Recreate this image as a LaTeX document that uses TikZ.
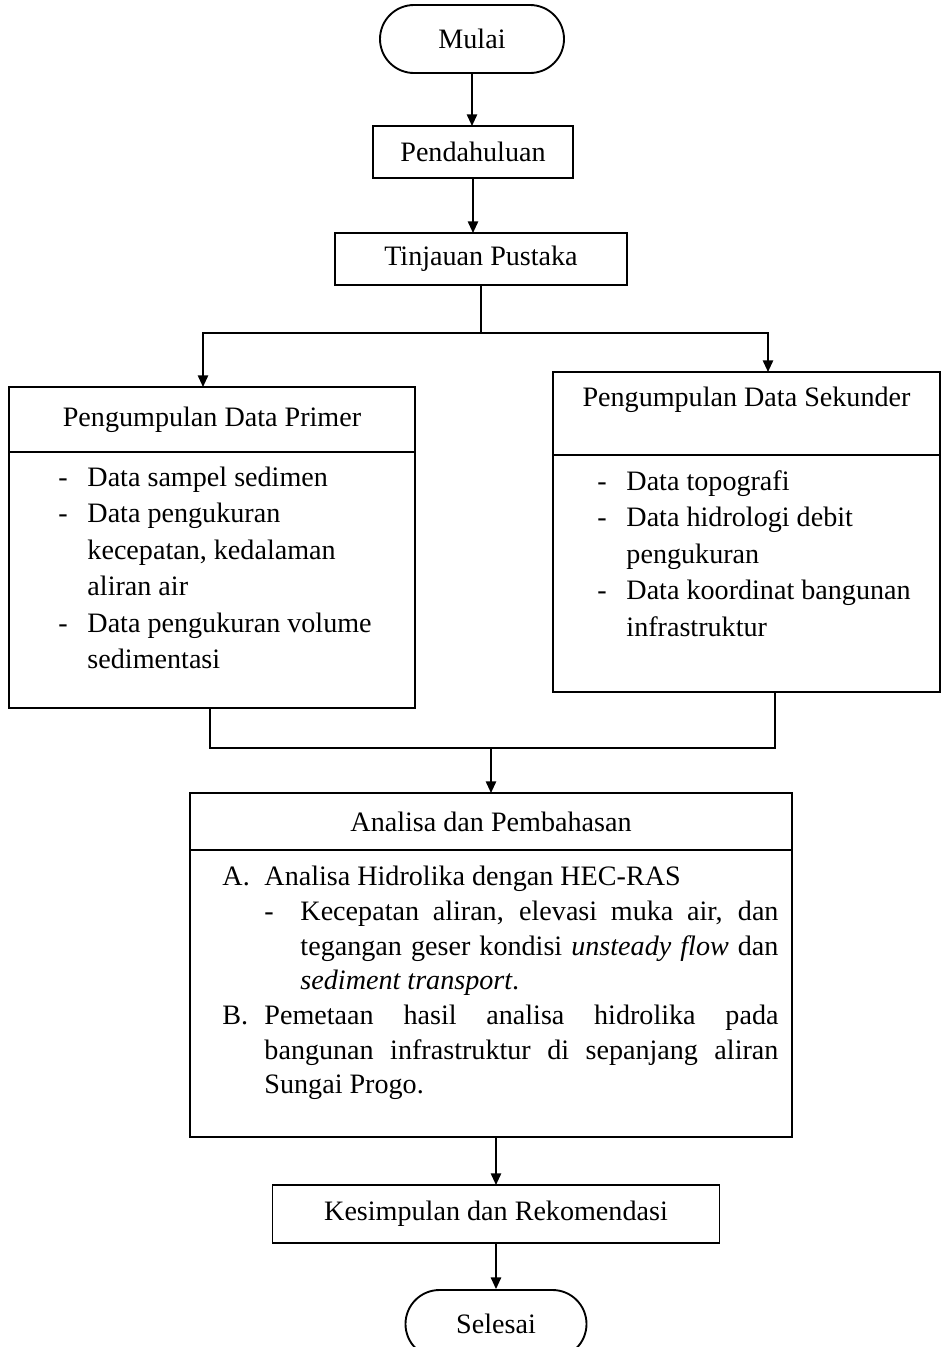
\documentclass[tikz,border=0pt]{standalone}
\usepackage{fontspec}
\setmainfont{Liberation Serif}
\usepackage{array}
\usetikzlibrary{arrows.meta,shapes.misc,calc}

\newcommand{\px}{0.015cm}

\tikzset{
  garis/.style={line width=0.8pt},
  panah/.style={garis,-{Triangle[length=5pt,width=4.4pt]}},
  ukuran/.style 2 args={minimum width=#1*\px,minimum height=#2*\px},
  kotak/.style={draw,garis,rectangle,inner sep=0pt,outer sep=0pt,font=\fontsize{12}{15}\selectfont},
  terminal/.style={draw,garis,rounded rectangle,inner sep=0pt,font=\fontsize{12}{15}\selectfont},
  daftar/.style={anchor=north west,inner sep=0pt,font=\fontsize{12}{15.6}\selectfont}
}

\begin{document}
\begin{tikzpicture}[x=0.015cm,y=-0.015cm]
	\useasboundingbox (0,0) rectangle (942,1347);

	% alur atas
	\node[terminal,ukuran={184}{68}] (mulai) at (472,39) {Mulai};
	\node[kotak,ukuran={200}{52}] (pendahuluan) at (473,152) {Pendahuluan};
	\node[kotak,ukuran={292}{52}] (tinjauan) at (481,259) {Tinjauan Pustaka};

	% data primer
	\node[kotak,ukuran={406}{65}] (primerjudul) at (212,419.5) {Pengumpulan Data Primer};
	\node[kotak,ukuran={406}{256},anchor=north] (primerisi) at (primerjudul.south) {};
	\node[daftar] (primerdaftar) at ($(primerisi.north west)+(49,8)$) {%
		\begin{tabular}{@{}p{0.435cm}@{}l@{}}
			- & Data sampel sedimen\\
			- & Data pengukuran\\
			  & kecepatan, kedalaman\\
			  & aliran air\\
			- & Data pengukuran volume\\
			  & sedimentasi
		\end{tabular}};

	% data sekunder
	\node[kotak,ukuran={387}{83},text depth=14pt] (sekunderjudul) at (746.5,413.5) {Pengumpulan Data Sekunder};
	\node[kotak,ukuran={387}{237},anchor=north] (sekunderisi) at (sekunderjudul.south) {};
	\node[daftar] (sekunderdaftar) at ($(sekunderisi.north west)+(44,9)$) {%
		\begin{tabular}{@{}p{0.435cm}@{}l@{}}
			- & Data topografi\\
			- & Data hidrologi debit\\
			  & pengukuran\\
			- & Data koordinat bangunan\\
			  & infrastruktur
		\end{tabular}};

	% analisa
	\node[kotak,ukuran={602}{57}] (analisajudul) at (491,821.5) {Analisa dan Pembahasan};
	\node[kotak,ukuran={602}{287},anchor=north] (analisaisi) at (analisajudul.south) {};
	\node[daftar,font=\fontsize{12}{14.8}\selectfont] (analisadaftar) at ($(analisaisi.north west)+(32,11)$) {%
		\begin{tabular}{@{}p{0.63cm}@{}p{0.54cm}@{}p{7.17cm}@{}}
			A. & \multicolumn{2}{@{}l@{}}{Analisa Hidrolika dengan HEC-RAS}\\
			   & - & Kecepatan aliran, elevasi muka air, dan\linebreak
			       tegangan geser kondisi \textit{unsteady flow} dan\linebreak
			       \textit{sediment transport}.\\
			B. & \multicolumn{2}{@{}p{7.71cm}@{}}{Pemetaan hasil analisa hidrolika pada\linebreak
			       bangunan infrastruktur di sepanjang aliran\linebreak
			       Sungai Progo.}
		\end{tabular}};

	% alur bawah
	\node[kotak,ukuran={447}{58}] (kesimpulan) at (496,1214) {Kesimpulan dan Rekomendasi};
	\node[terminal,ukuran={181}{68}] (selesai) at (496,1324) {Selesai};

	% penghubung
	\draw[panah] (mulai.south) -- (mulai.south |- pendahuluan.north);
	\draw[panah] (pendahuluan.south) -- (pendahuluan.south |- tinjauan.north);
	\path (tinjauan.south) ++(0,48) coordinate (cabang);
	\draw[garis] (tinjauan.south) -- (cabang);
	\draw[panah] (cabang) -| ($(primerjudul.north)+(-9,0)$);
	\draw[panah] (cabang) -| ($(sekunderjudul.north)+(21.5,0)$);

	\coordinate (gabung) at ($(analisajudul.north)+(0,-45)$);
	\draw[garis] ($(primerisi.south)+(-2,0)$) |- (gabung) -| ($(sekunderisi.south)+(28.5,0)$);
	\draw[panah] (gabung) -- (analisajudul.north);

	\draw[panah] (kesimpulan.north |- analisaisi.south) -- (kesimpulan.north);
	\draw[panah] (kesimpulan.south) -- (selesai.north);
\end{tikzpicture}
\end{document}
